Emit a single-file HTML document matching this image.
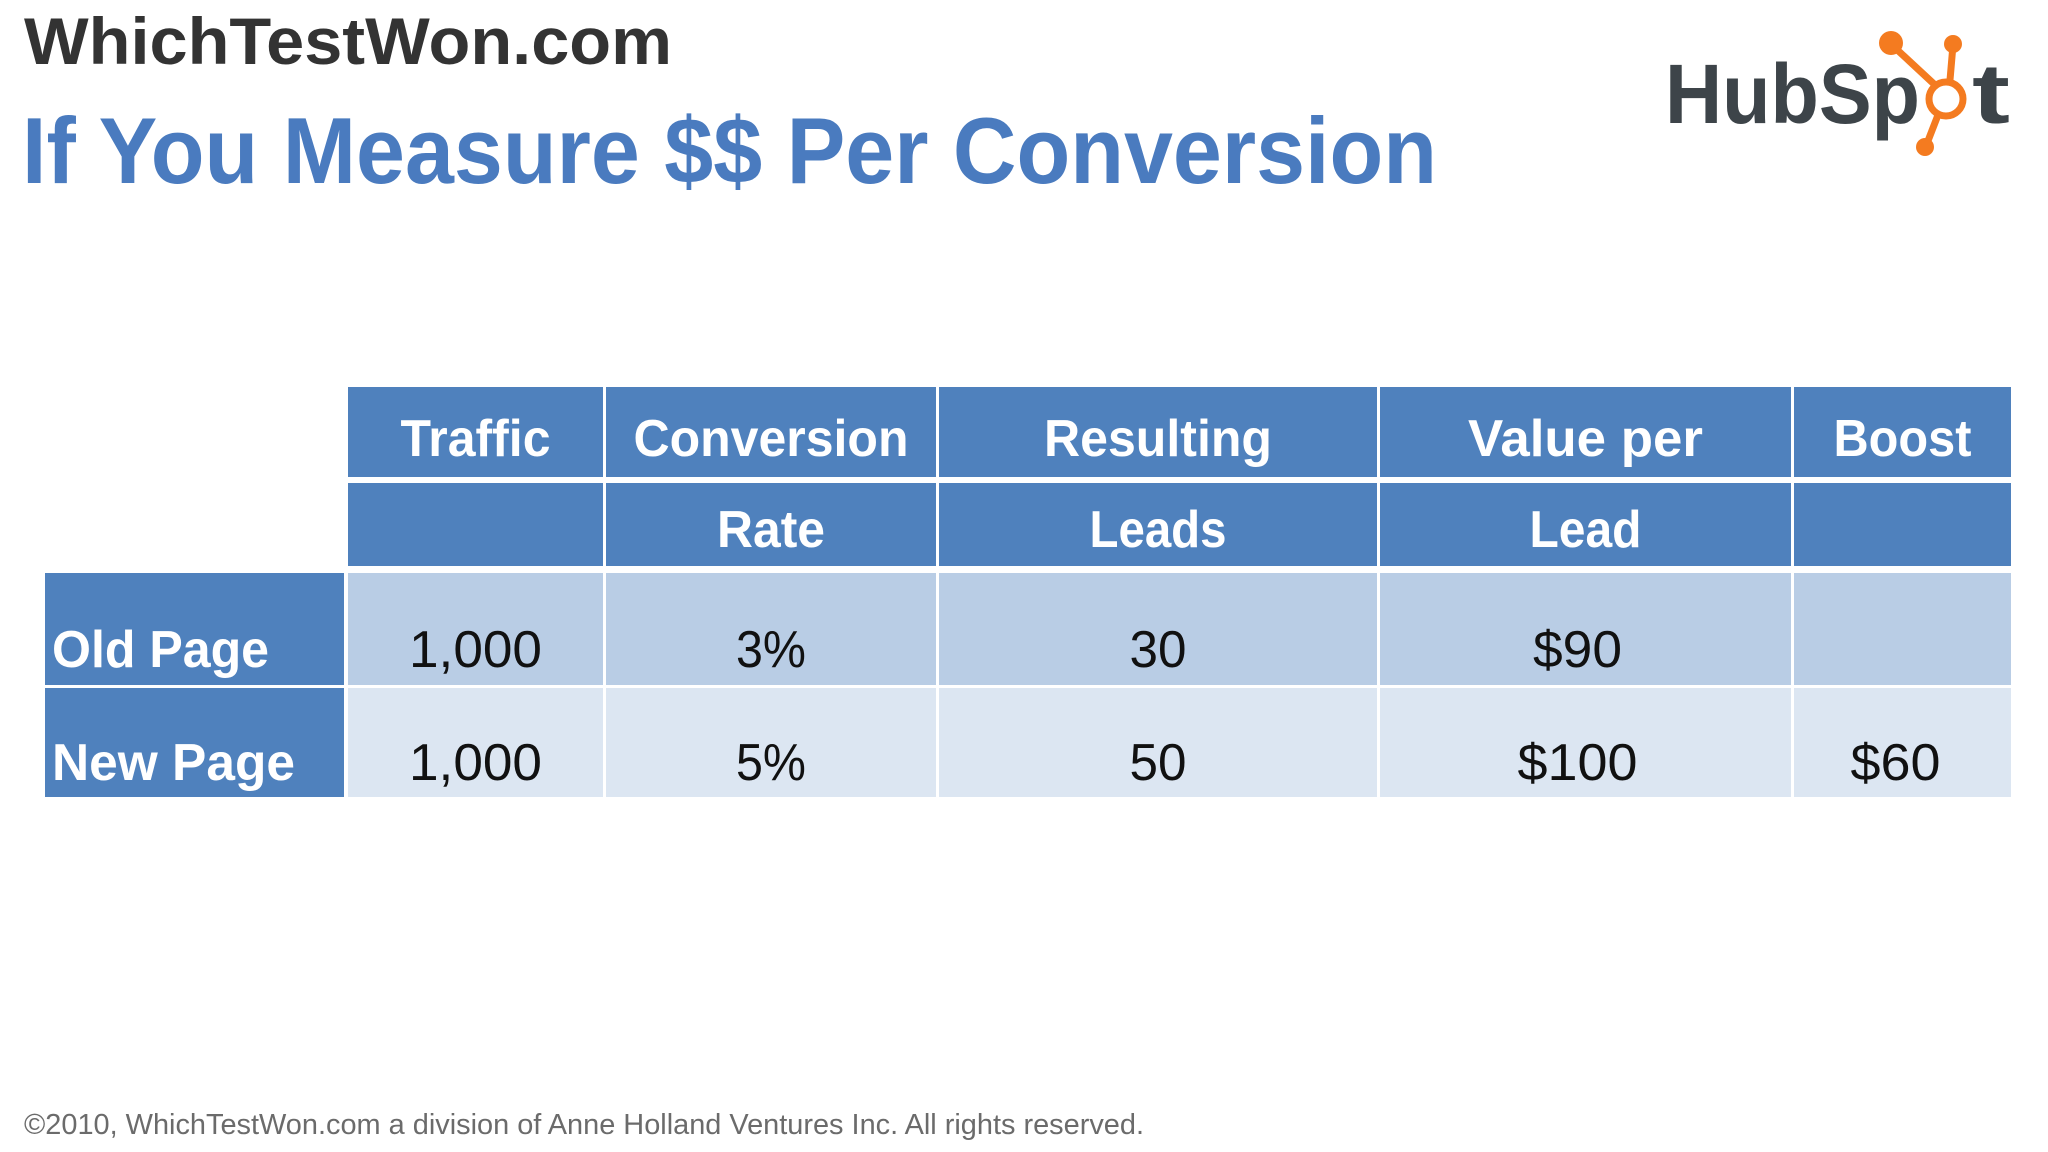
<!DOCTYPE html>
<html><head><meta charset="utf-8"><style>
html,body{margin:0;padding:0;background:#fff;}
svg{display:block;font-family:"Liberation Sans",sans-serif;}
</style></head><body>
<svg width="2048" height="1152" viewBox="0 0 2048 1152">
<rect x="0" y="0" width="2048" height="1152" fill="#fff"/>
<text x="24" y="64" font-size="66" font-weight="bold" fill="#333" textLength="648" lengthAdjust="spacingAndGlyphs">WhichTestWon.com</text>
<text x="22" y="183" font-size="94" font-weight="bold" fill="#4a7bbf" textLength="1415" lengthAdjust="spacingAndGlyphs">If You Measure $$ Per Conversion</text>
<g>
<text x="1665" y="123" font-size="84" font-weight="bold" fill="#3d4449" textLength="255" lengthAdjust="spacingAndGlyphs">HubSp</text>
<text x="1972" y="123" font-size="84" font-weight="bold" fill="#3d4449" textLength="38" lengthAdjust="spacingAndGlyphs">t</text>
<g stroke="#f47b20" stroke-width="7" fill="none">
<circle cx="1946" cy="99" r="17"/>
<line x1="1892" y1="45" x2="1934" y2="84"/>
<line x1="1953" y1="45" x2="1950" y2="80"/>
<line x1="1926" y1="146" x2="1938" y2="115"/>
</g>
<circle cx="1891" cy="43" r="12" fill="#f47b20"/>
<circle cx="1953" cy="44" r="9" fill="#f47b20"/>
<circle cx="1925" cy="147" r="9" fill="#f47b20"/>
</g>
<g id="tbl"></g>
<text x="24" y="1134" font-size="29" fill="#6b6b6b" textLength="1120" lengthAdjust="spacingAndGlyphs">©2010, WhichTestWon.com a division of Anne Holland Ventures Inc.  All rights reserved.</text>
</svg>
<script>
const headers1 = ["Traffic","Conversion","Resulting","Value per","Boost"];
const headers2 = ["","Rate","Leads","Lead",""];
const rowLabels = ["Old Page","New Page"];
const oldRow = ["1,000","3%","30","$90",""];
const newRow = ["1,000","5%","50","$100","$60"];
const h1W=[150,275,228,235,138], h2W=[0,108,137,112,0];
const oldW=[133,70,57,89,0], newW=[133,70,57,120,90], labW=[217,243];
const colX=[346,604,937,1378,1792,2012];
const g=document.getElementById('tbl');
const NS='http://www.w3.org/2000/svg';
function rect(x,y,w,h,f,n){const r=document.createElementNS(NS,'rect');r.setAttribute('x',x);r.setAttribute('y',y);r.setAttribute('width',w);r.setAttribute('height',h);r.setAttribute('fill',f);


g.appendChild(r);}
function txt(s,x,y,w,fill,bold,anchor,n){if(!s)return;const t=document.createElementNS(NS,'text');t.textContent=s;t.setAttribute('x',x);t.setAttribute('y',y);t.setAttribute('font-size',52);if(bold)t.setAttribute('font-weight','bold');t.setAttribute('fill',fill);t.setAttribute('text-anchor',anchor);if(w){t.setAttribute('textLength',w);t.setAttribute('lengthAdjust','spacingAndGlyphs');}


g.appendChild(t);}
const rowsY=[[387,477],[483,566],[573,685],[688,797]];
for(let c=0;c<5;c++){
  const x0=colX[c]+2,x1=colX[c+1]-1,cx=(x0+x1)/2;
  rect(x0,rowsY[0][0],x1-x0,rowsY[0][1]-rowsY[0][0],'#4f81bd','header-cell');
  rect(x0,rowsY[1][0],x1-x0,rowsY[1][1]-rowsY[1][0],'#4f81bd','header-cell');
  rect(x0,rowsY[2][0],x1-x0,rowsY[2][1]-rowsY[2][0],'#b9cde5','old-page-cell');
  rect(x0,rowsY[3][0],x1-x0,rowsY[3][1]-rowsY[3][0],'#dce6f2','new-page-cell');
  txt(headers1[c],cx,456,h1W[c],'#fff',true,'middle','header-label');
  txt(headers2[c],cx,547,h2W[c],'#fff',true,'middle','header-label');
  txt(oldRow[c],cx+(c==3?-8:0),667,oldW[c],'#111',false,'middle','old-page-value');
  txt(newRow[c],cx+(c==3?-8:c==4?-7:0),780,newW[c],'#111',false,'middle','new-page-value');
}
for(let r=0;r<2;r++){
  rect(45,rowsY[2+r][0],299,rowsY[2+r][1]-rowsY[2+r][0],'#4f81bd','row-label-cell');
  txt(rowLabels[r],52,r?780:667,labW[r],'#fff',true,'start','row-label');
}
</script>
</body></html>
